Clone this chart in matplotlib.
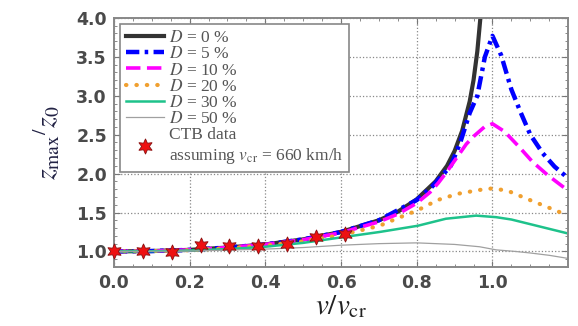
import matplotlib
matplotlib.use('Agg')
import matplotlib.pyplot as plt
from matplotlib.ticker import MultipleLocator

# valeurs (v/v_cr, z_max/z_0)
x_d0 = [0, 0.1, 0.2, 0.3, 0.4, 0.5, 0.6, 0.7, 0.75, 0.8, 0.85, 0.88, 0.9, 0.92, 0.94, 0.95, 0.96, 0.97]
y_d0 = [1.0, 1.005, 1.02, 1.05, 1.09, 1.155, 1.25, 1.40, 1.51, 1.67, 1.90, 2.10, 2.29, 2.55, 2.93, 3.20, 3.57, 4.1]

x_d5 = [0, 0.1, 0.2, 0.3, 0.4, 0.5, 0.6, 0.7, 0.8, 0.84, 0.89, 0.915, 0.94, 0.96, 0.98, 1.0,
        1.023, 1.05, 1.075, 1.1, 1.133, 1.164, 1.2]
y_d5 = [1.0, 1.005, 1.02, 1.05, 1.09, 1.155, 1.25, 1.40, 1.66, 1.83, 2.10, 2.40, 2.78, 3.0, 3.5, 3.77,
        3.52, 3.08, 2.78, 2.50, 2.26, 2.09, 1.94]

x_d10 = [0, 0.1, 0.2, 0.3, 0.4, 0.5, 0.6, 0.7, 0.75, 0.8, 0.835, 0.857, 0.879, 0.905, 0.931, 0.953,
         0.979, 1.0, 1.032, 1.071, 1.106, 1.146, 1.2]
y_d10 = [1.0, 1.005, 1.02, 1.05, 1.09, 1.15, 1.24, 1.38, 1.48, 1.62, 1.76, 1.88, 2.02, 2.20, 2.38, 2.49,
         2.60, 2.64, 2.54, 2.34, 2.15, 1.98, 1.78]

x_d20 = [0, 0.1, 0.2, 0.3, 0.4, 0.5, 0.6, 0.702, 0.746, 0.803, 0.855, 0.908, 0.966, 1.0, 1.04, 1.089, 1.15, 1.2]
y_d20 = [1.0, 1.004, 1.015, 1.04, 1.075, 1.13, 1.21, 1.33, 1.42, 1.53, 1.66, 1.74, 1.79, 1.81, 1.78, 1.68, 1.56, 1.46]

x_d30 = [0, 0.1, 0.2, 0.3, 0.4, 0.5, 0.6, 0.702, 0.803, 0.877, 0.957, 1.01, 1.05, 1.1, 1.15, 1.2]
y_d30 = [1.0, 1.003, 1.012, 1.03, 1.06, 1.11, 1.18, 1.25, 1.33, 1.42, 1.46, 1.44, 1.41, 1.35, 1.29, 1.23]

x_d50 = [0, 0.2, 0.4, 0.5, 0.6, 0.7, 0.8, 0.9, 0.966, 1.01, 1.06, 1.1, 1.15, 1.2]
y_d50 = [1.0, 1.005, 1.03, 1.05, 1.08, 1.10, 1.11, 1.09, 1.06, 1.02, 1.0, 0.98, 0.95, 0.91]

x_ctb = [0, 0.077, 0.153, 0.23, 0.304, 0.38, 0.458, 0.535, 0.61]
y_ctb = [1.0, 1.01, 0.99, 1.08, 1.07, 1.07, 1.09, 1.18, 1.23]

labels = ['$D$ = 0 %', '$D$ = 5 %', '$D$ = 10 %', '$D$ = 20 %', '$D$ = 30 %', '$D$ = 50 %']

plt.rcParams['mathtext.fontset'] = 'stix'

fig = plt.figure(figsize=(5.78, 3.26), dpi=100)
ax = fig.add_axes([0.197, 0.181, 0.786, 0.764])

ax.plot(x_d0, y_d0, color='#333333', lw=3.0, label=labels[0])
ax.plot(x_d5, y_d5, color='#0000ff', lw=3.2, dashes=(3, 1.2, 0.8, 1.2), label=labels[1])
ax.plot(x_d10, y_d10, color='#ff00ff', lw=2.6, dashes=(4, 1.8), label=labels[2])
ax.plot(x_d20, y_d20, color='#f0a030', lw=3.0, dashes=(0.1, 2.4), dash_capstyle='round', label=labels[3])
ax.plot(x_d30, y_d30, color='#1ec28b', lw=1.8, label=labels[4])
ax.plot(x_d50, y_d50, color='#a0a0a0', lw=0.9, label=labels[5])
ax.plot(x_ctb, y_ctb, ls='none', marker=(6, 1, 0), ms=11, mfc='#ee1111', mec='#881111', mew=0.6,
        clip_on=False, zorder=5, label='CTB data\nassuming $v_{\\mathrm{cr}}$ = 660 km/h')

ax.set_xlim(0, 1.2)
ax.set_ylim(0.8, 4.0)
ax.set_xticks([0.0, 0.2, 0.4, 0.6, 0.8, 1.0])
ax.set_yticks([1.0, 1.5, 2.0, 2.5, 3.0, 3.5, 4.0])
ax.xaxis.set_minor_locator(MultipleLocator(0.05))
ax.yaxis.set_minor_locator(MultipleLocator(0.1))
ax.tick_params(which='both', direction='in', top=True, right=True, color='#777777')
ax.tick_params(which='major', length=4, labelsize=12.5, labelcolor='#4a4a4a', pad=5)
ax.tick_params(which='minor', length=2)
for lab in ax.get_xticklabels() + ax.get_yticklabels():
    lab.set_fontweight('bold')
for sp in ax.spines.values():
    sp.set_color('#888888')
    sp.set_linewidth(1.4)
ax.grid(True, which='major', ls=':', color='#888888', lw=0.9)

ax.set_xlabel('$v/v_{\\mathrm{cr}}$', fontsize=21, color='#222222', labelpad=0)
ax.set_ylabel('$z_{\\mathrm{max}}{}^{/}z_{0}$', fontsize=20, color='#222244', labelpad=10)

leg = ax.legend(loc='upper left', prop={'family': 'Liberation Serif', 'size': 12.5},
                handlelength=2.2, handletextpad=0.25, labelspacing=0.0, borderpad=0.35,
                fancybox=False, framealpha=1, edgecolor='#888888', borderaxespad=0.35)
leg.get_frame().set_linewidth(1.2)
for t in leg.get_texts():
    t.set_color('#555555')

fig.savefig('out.png', dpi=100)
